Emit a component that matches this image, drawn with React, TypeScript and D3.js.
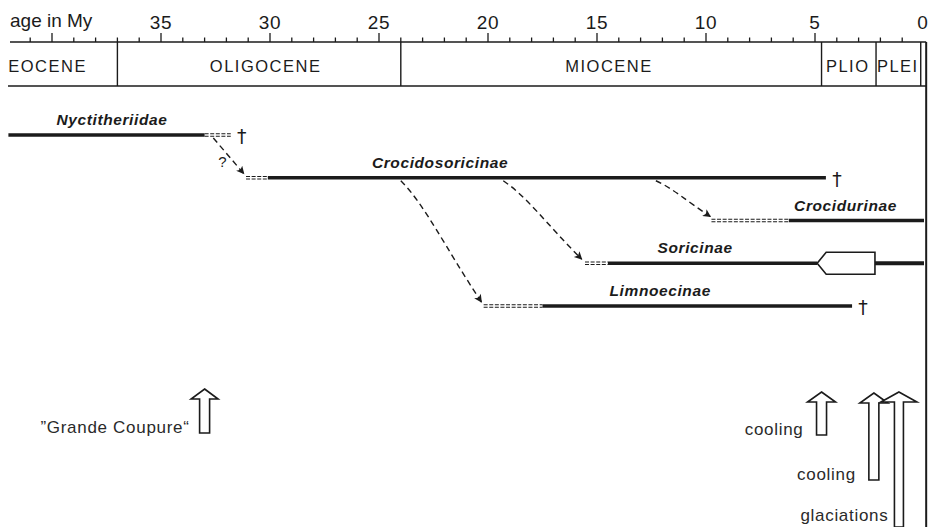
import * as d3 from "d3";
import { useEffect, useRef } from "react";

// time axis (million years before present)
const ageTicks = [35, 30, 25, 20, 15, 10, 5, 0];
const epochNames = ["EOCENE", "OLIGOCENE", "MIOCENE", "PLIO", "PLEI"];
const epochEnds = [37, 24, 4.7, 2.2, 0.15];
const epochLabelAge = [40.2, 30.2, 14.45, 3.5, 1.2];

// lineages
const taxa = ["Nyctitheriidae", "Crocidosoricinae", "Crocidurinae", "Soricinae", "Limnoecinae"];
const doubtfulFrom = [null, 31.1, 9.75, 15.55, 20.2];
const recordFrom = [42, 30.1, 6.2, 14.5, 17.5];
const recordTo = [33.0, 4.5, 0, 0, 3.3];
const doubtfulTo = [31.8, null, null, null, null];
const extinct = [true, true, false, false, true];
const taxonLabelAge = [37.25, 22.2, 3.6, 10.5, 12.1];
const soricineRadiation = [4.9, 2.25];

// probable ancestry
const linkFrom = ["Nyctitheriidae", "Crocidosoricinae", "Crocidosoricinae", "Crocidosoricinae"];
const linkFromAge = [32.6, 24.0, 19.3, 12.3];
const linkTo = ["Crocidosoricinae", "Limnoecinae", "Soricinae", "Crocidurinae"];
const linkToAge = [31.2, 20.3, 15.7, 9.8];

// climatic events
const eventNames = ["\u201dGrande Coupure\u201c", "cooling", "cooling", "glaciations"];
const eventAge = [33.0, 4.7, 2.3, 1.15];

const W = 928;
const H = 527;
const INK = "#1b1b1b";
const FONT = "'Liberation Sans', Arial, Helvetica, sans-serif";

const ShrewChart = () => {
  const ref = useRef<SVGSVGElement>(null);

  useEffect(() => {
    const svg = d3.select(ref.current);
    svg.selectAll("*").remove();

    const x = d3.scaleLinear().domain([42, 0]).range([8.4, 924]);
    const y = d3.scalePoint().domain(taxa).range([135, 306]);
    const axisY = 42;
    const bandBottom = 86;

    svg.append("defs").append("marker")
      .attr("id", "head")
      .attr("viewBox", "0 0 10 10")
      .attr("refX", 9)
      .attr("refY", 5)
      .attr("markerWidth", 11)
      .attr("markerHeight", 8)
      .attr("markerUnits", "userSpaceOnUse")
      .attr("orient", "auto")
      .append("path")
      .attr("d", "M0,0 L10,5 L0,10 L2.5,5 Z")
      .attr("fill", INK);

    // --- time axis ---
    const axis = svg.append("g");
    axis.append("line")
      .attr("x1", 10).attr("x2", x(-0.1))
      .attr("y1", axisY).attr("y2", axisY)
      .attr("stroke", INK).attr("stroke-width", 1.6);

    axis.selectAll(".minor")
      .data(d3.range(41, 0, -1))
      .enter().append("line")
      .attr("x1", d => x(d)).attr("x2", d => x(d))
      .attr("y1", d => (d % 5 === 0 ? axisY - 9 : axisY - 4.5))
      .attr("y2", axisY)
      .attr("stroke", INK).attr("stroke-width", 1.3);

    axis.selectAll(".ticklabel")
      .data(ageTicks)
      .enter().append("text")
      .attr("x", d => (d === 0 ? x(d) - 1 : x(d)))
      .attr("y", 29)
      .attr("text-anchor", "middle")
      .attr("font-family", FONT)
      .attr("font-size", 19)
      .attr("letter-spacing", 0.8)
      .attr("fill", INK)
      .text(d => d);

    axis.append("text")
      .attr("x", 10).attr("y", 27)
      .attr("font-family", FONT).attr("font-size", 19)
      .attr("fill", INK)
      .text("age in My");

    // --- epoch band ---
    axis.append("line")
      .attr("x1", 8).attr("x2", x(-0.1))
      .attr("y1", bandBottom).attr("y2", bandBottom)
      .attr("stroke", INK).attr("stroke-width", 1.6);

    axis.selectAll(".epochline")
      .data(epochEnds)
      .enter().append("line")
      .attr("x1", d => x(d)).attr("x2", d => x(d))
      .attr("y1", axisY).attr("y2", bandBottom)
      .attr("stroke", INK).attr("stroke-width", 1.4);

    axis.selectAll(".epochname")
      .data(epochNames)
      .enter().append("text")
      .attr("x", (_, i) => x(epochLabelAge[i]))
      .attr("y", 72)
      .attr("text-anchor", "middle")
      .attr("font-family", FONT)
      .attr("font-size", 16.5)
      .attr("letter-spacing", 1.5)
      .attr("fill", INK)
      .text(d => d);

    // present-day line
    svg.append("line")
      .attr("x1", x(-0.1)).attr("x2", x(-0.1))
      .attr("y1", axisY).attr("y2", H)
      .attr("stroke", INK).attr("stroke-width", 2);

    // --- lineages ---
    const lin = svg.append("g");
    const doubtful = (a0: number, a1: number, yy: number) => {
      [-1.3, 1.3].forEach(off => {
        lin.append("line")
          .attr("x1", x(a0)).attr("x2", x(a1))
          .attr("y1", yy + off).attr("y2", yy + off)
          .attr("stroke", INK).attr("stroke-width", 1.1)
          .attr("stroke-dasharray", "4,1.6");
      });
    };

    taxa.forEach((t, i) => {
      const yy = y(t) as number;
      if (doubtfulFrom[i] !== null) doubtful(doubtfulFrom[i] as number, recordFrom[i], yy);

      if (t === "Soricinae") {
        const [r0, r1] = soricineRadiation;
        lin.append("line")
          .attr("x1", x(recordFrom[i])).attr("x2", x(r0))
          .attr("y1", yy).attr("y2", yy)
          .attr("stroke", INK).attr("stroke-width", 3.6);
        lin.append("line")
          .attr("x1", x(r1)).attr("x2", x(recordTo[i]))
          .attr("y1", yy).attr("y2", yy)
          .attr("stroke", INK).attr("stroke-width", 4.2);
        const p = d3.path();
        p.moveTo(x(r0), yy);
        p.lineTo(x(r0) + 9, yy - 11);
        p.lineTo(x(r1), yy - 11);
        p.lineTo(x(r1), yy + 11);
        p.lineTo(x(r0) + 9, yy + 11);
        p.closePath();
        lin.append("path")
          .attr("d", p.toString())
          .attr("fill", "white")
          .attr("stroke", INK).attr("stroke-width", 1.6);
      } else {
        lin.append("line")
          .attr("x1", x(recordFrom[i])).attr("x2", x(recordTo[i]))
          .attr("y1", yy).attr("y2", yy)
          .attr("stroke", INK).attr("stroke-width", 3.6);
      }

      if (doubtfulTo[i] !== null) doubtful(recordTo[i], doubtfulTo[i] as number, yy);

      if (extinct[i]) {
        const endAge = doubtfulTo[i] !== null ? (doubtfulTo[i] as number) : recordTo[i];
        lin.append("text")
          .attr("x", x(endAge) + 11)
          .attr("y", yy + 8)
          .attr("text-anchor", "middle")
          .attr("font-family", "'DejaVu Sans', sans-serif")
          .attr("font-size", 19)
          .attr("fill", INK)
          .text("\u2020");
      }

      lin.append("text")
        .attr("x", x(taxonLabelAge[i]))
        .attr("y", yy - 10)
        .attr("text-anchor", "middle")
        .attr("font-family", FONT)
        .attr("font-size", 15.5)
        .attr("font-weight", "bold")
        .attr("font-style", "italic")
        .attr("letter-spacing", 0.6)
        .attr("fill", INK)
        .text(t);
    });

    // --- ancestry arrows ---
    linkFrom.forEach((f, i) => {
      const x0 = x(linkFromAge[i]);
      const y0 = (y(f) as number) + 3;
      const x1 = x(linkToAge[i]);
      const y1 = (y(linkTo[i]) as number) - 4;
      const dx = x1 - x0;
      const dy = y1 - y0;
      const p = d3.path();
      p.moveTo(x0, y0);
      if (i === 0) {
        p.lineTo(x1, y1);
      } else {
        p.bezierCurveTo(x0 + dx * 0.3, y0 + dy * 0.2, x1 - dx * 0.45, y1 - dy * 0.45, x1, y1);
      }
      lin.append("path")
        .attr("d", p.toString())
        .attr("fill", "none")
        .attr("stroke", INK)
        .attr("stroke-width", 1.4)
        .attr("stroke-dasharray", "6,4")
        .attr("marker-end", "url(#head)");
    });

    lin.append("text")
      .attr("x", x(linkFromAge[0]) + 9)
      .attr("y", 167)
      .attr("text-anchor", "middle")
      .attr("font-family", FONT)
      .attr("font-size", 15)
      .attr("fill", INK)
      .text("?");

    // --- climatic events ---
    const ev = svg.append("g");
    const evTop = [389, 392, 393, 392];
    const evBottom = [433, 435, 480, 527];
    const evHead = [13.5, 14, 14, 18];
    const evShaft = [5, 5, 5, 4.5];
    const evBaseline = [433, 435, 480, 521];
    const evGap = [10, 13, 13, 6];

    eventNames.forEach((name, i) => {
      const cx = x(eventAge[i]);
      const top = evTop[i];
      const headBase = top + 10;
      const p = d3.path();
      p.moveTo(cx, top);
      p.lineTo(cx + evHead[i], headBase);
      p.lineTo(cx + evShaft[i], headBase);
      p.lineTo(cx + evShaft[i], evBottom[i]);
      p.lineTo(cx - evShaft[i], evBottom[i]);
      p.lineTo(cx - evShaft[i], headBase);
      p.lineTo(cx - evHead[i], headBase);
      p.closePath();
      ev.append("path")
        .attr("d", p.toString())
        .attr("fill", "white")
        .attr("stroke", INK)
        .attr("stroke-width", 1.6)
        .attr("stroke-linejoin", "miter");

      ev.append("text")
        .attr("x", cx - evShaft[i] - evGap[i])
        .attr("y", evBaseline[i])
        .attr("text-anchor", "end")
        .attr("font-family", FONT)
        .attr("font-size", 17)
        .attr("letter-spacing", 0.7)
        .attr("fill", "#2a2a2a")
        .text(name);
    });
  }, []);

  return (
    <svg
      ref={ref}
      width={W}
      height={H}
      style={{ position: "absolute", left: 0, top: 0, background: "white" }}
    />
  );
};

export default function App() {
  return <ShrewChart />;
}
